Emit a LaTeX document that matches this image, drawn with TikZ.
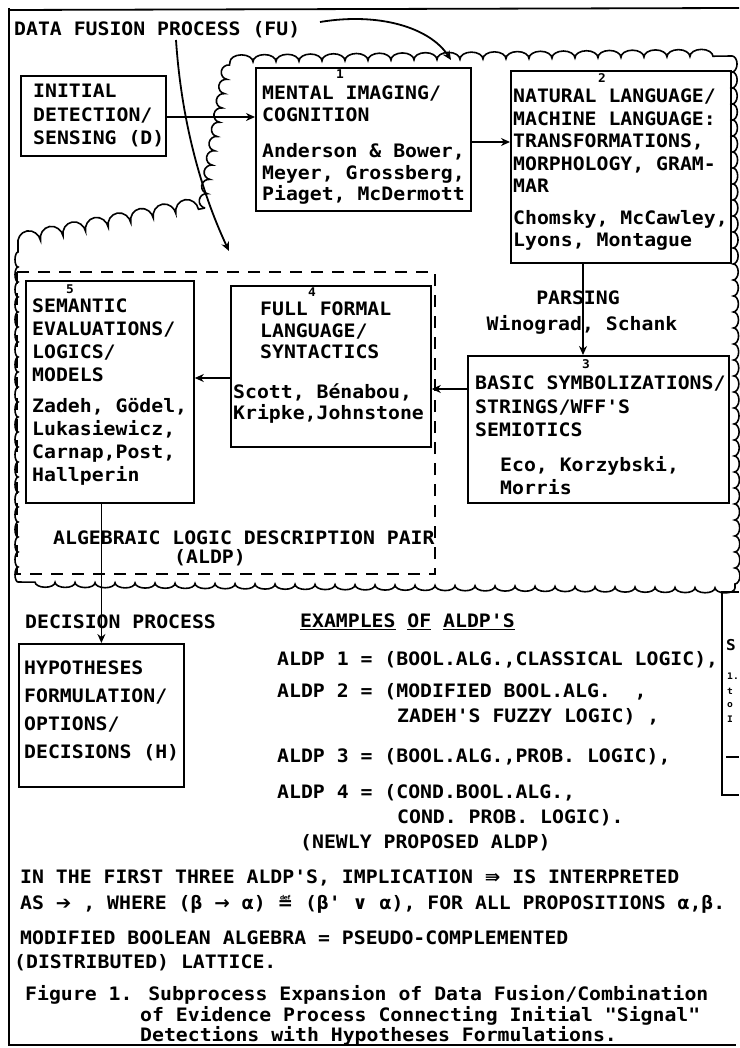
\documentclass[tikz,border=0pt]{standalone}
\usepackage{fontspec}
\newfontfamily\tw[FakeStretch=1.07]{DejaVu Sans Mono}
\newfontfamily\sym{DejaVu Sans}
\usetikzlibrary{arrows.meta,decorations.pathmorphing}
\newcommand\mytt[1]{\tw\bfseries\fontsize{18.5}{#1}\selectfont\spaceskip=\fontcharwd\font`0\relax}
\tikzset{
 tt/.style={font=\mytt{22}},
 boxf/.style={draw, line width=1.8pt, anchor=north west, inner sep=0pt},
 btxt/.style={anchor=north west, align=left, inner sep=0pt},
 lbl/.style={tt, anchor=west, inner sep=0pt},
 arr/.style={line width=1.8pt, -{Stealth[length=9pt,width=8pt]}},
 cloudline/.style={line width=1.6pt, decorate},
 num/.style={font=\tw\bfseries\fontsize{12}{12}\selectfont, inner sep=0pt},
 frame/.style={line width=1.8pt},
 aldp/.style={line width=1.6pt, dash pattern=on 12pt off 9pt},
}
\begin{document}
\begin{tikzpicture}[x=1pt,y=-1pt]
\useasboundingbox (0,0) rectangle (739,1048);
\fill[white] (0,0) rectangle (739,1048);
% outer frame
\draw[frame] (9,10) -- (739,8);
\draw[frame] (9,8) -- (9,1046);
\draw[frame] (9,1045) -- (736,1045);
% title
\node[lbl, font=\mytt{20}] (title) at (14,30) {DATA FUSION PROCESS (FU)};
% cloud
\draw[cloudline, decoration={bumps,segment length=46pt,amplitude=7pt}] (230,62) -- (732,56);
\draw[cloudline, decoration={bumps,segment length=32pt,amplitude=5pt}] (732,56) -- (735,588);
\draw[cloudline, decoration={bumps,segment length=40pt,amplitude=5pt}] (735,588) -- (18,582);
\draw[cloudline, decoration={bumps,segment length=30pt,amplitude=3pt}] (18,582) -- (18,245);
\draw[cloudline, decoration={bumps,segment length=46pt,amplitude=12pt}] (18,245) -- (205,208);
\draw[cloudline, decoration={bumps,segment length=29pt,amplitude=7pt}] (205,208) -- (230,62);
% ALDP dashed region
\draw[aldp] (17,272) rectangle (435,574);
\node[lbl] (alg) at (53,538) {ALGEBRAIC LOGIC DESCRIPTION PAIR};
\node[tt, inner sep=0pt] (aldp) at (210,558) {(ALDP)};
% box frames
\node[boxf, minimum width=145pt, minimum height=80pt] (d) at (20,75) {};
\node[boxf, minimum width=215pt, minimum height=143pt] (m) at (255,67) {};
\node[boxf, minimum width=220pt, minimum height=192pt] (n) at (510,70) {};
\node[boxf, minimum width=261pt, minimum height=147pt] (bs) at (467,355) {};
\node[boxf, minimum width=200pt, minimum height=161pt] (f) at (230,285) {};
\node[boxf, minimum width=168pt, minimum height=222pt] (s) at (25,280) {};
\node[boxf, minimum width=165pt, minimum height=143pt] (h) at (18,643) {};
% box texts
\node[btxt, font=\mytt{23.5}] (dT) at (33,84) {INITIAL\\DETECTION/\\SENSING (D)};
\node[btxt, font=\mytt{21.5}] (mT) at (262,86)
 {MENTAL IMAGING/\\COGNITION\\[15pt]Anderson \& Bower,\\Meyer, Grossberg,\\Piaget, McDermott};
\node[btxt, font=\mytt{22.5}] (nT) at (513,89)
 {NATURAL LANGUAGE/\\MACHINE LANGUAGE:\\TRANSFORMATIONS,\\MORPHOLOGY, GRAM-\\MAR\\[9pt]Chomsky, McCawley,\\Lyons, Montague};
\node[btxt, font=\mytt{23.5}] (bsT) at (475,376)
 {BASIC SYMBOLIZATIONS/\\STRINGS/WFF'S\\SEMIOTICS\\[11pt]\hspace*{25pt}Eco, Korzybski,\\\hspace*{25pt}Morris};
\node[btxt, font=\mytt{21.5}] (fT) at (233,302)
 {\hspace*{27pt}FULL FORMAL\\\hspace*{27pt}LANGUAGE/\\\hspace*{27pt}SYNTACTICS\\[18pt]Scott, Bénabou,\\Kripke,Johnstone};
\node[btxt, font=\mytt{23}] (sT) at (32,299)
 {SEMANTIC\\EVALUATIONS/\\LOGICS/\\MODELS\\[8pt]Zadeh, Gödel,\\Lukasiewicz,\\Carnap,Post,\\Hallperin};
\node[btxt, font=\mytt{28}] (hT) at (24,661)
 {HYPOTHESES\\FORMULATION/\\OPTIONS/\\DECISIONS (H)};
% box numbers
\node[num] (n1) at (340,74) {1};
\node[num] (n2) at (602,78) {2};
\node[num] (n3) at (586,364) {3};
\node[num] (n4) at (312,292) {4};
\node[num] (n5) at (70,289) {5};
% labels
\node[tt, inner sep=0pt] (parse) at (578,298) {PARSING};
\node[tt, inner sep=0pt] (wino) at (582,325) {Winograd, Schank};
\node[lbl] (dec) at (25,622) {DECISION PROCESS};
\node[lbl] (ex) at (300,622) {\underline{EXAMPLES} \underline{OF} \underline{ALDP'S}};
% connectors
\coordinate (pa) at (583,0);
\coordinate (pb) at (0,389);
\coordinate (pc) at (0,378);
\coordinate (pd) at (0,117);
\coordinate (pe) at (0,142);
\draw[arr] (d.east |- pd) -- (m.west |- pd);
\draw[arr] (m.east |- pe) -- (n.west |- pe);
\draw[arr] (n.south -| pa) -- (bs.north -| pa);
\draw[arr] (bs.west |- pb) -- (f.east |- pb);
\draw[arr] (f.west |- pc) -- (s.east |- pc);
\draw[arr] (s.south -| h.north) -- (h.north);
\coordinate (ta) at (176,40);
\coordinate (tb) at (229,251);
\coordinate (tc) at (320,22);
\coordinate (td) at (451,60);
\draw[arr] (ta) .. controls (182,130) and (205,200) .. (tb);
\draw[arr] (tc) .. controls (380,12) and (430,28) .. (td);
% ALDP examples
\node[lbl] (a1) at (277,660) {ALDP 1 = (BOOL.ALG.,CLASSICAL LOGIC),};
\node[lbl] (a2) at (277,692) {ALDP 2 = (MODIFIED BOOL.ALG.\ \ ,};
\node[lbl] (a2b) at (397,717) {ZADEH'S FUZZY LOGIC) ,};
\node[lbl] (a3) at (277,757) {ALDP 3 = (BOOL.ALG.,PROB. LOGIC),};
\node[lbl] (a4) at (277,793) {ALDP 4 = (COND.BOOL.ALG.,};
\node[lbl] (a4b) at (397,818) {COND. PROB. LOGIC).};
\node[lbl] (a5) at (300,843) {(NEWLY PROPOSED ALDP)};
% notes
\node[lbl] (b1) at (20,878) {IN THE FIRST THREE ALDP'S, IMPLICATION {\sym ⇛} IS INTERPRETED};
\node[lbl] (b2) at (20,904) {AS {\sym ➔} , WHERE (β {\sym →} α) {\sym ≝} (β' {\sym ∨} α), FOR ALL PROPOSITIONS α,β.};
\node[lbl] (b3) at (20,938) {MODIFIED BOOLEAN ALGEBRA = PSEUDO-COMPLEMENTED};
\node[lbl] (b4) at (14,963) {(DISTRIBUTED) LATTICE.};
\node[lbl] (c1) at (25,995) {Figure 1. Subprocess Expansion of Data Fusion/Combination};
\node[lbl] (c2) at (140,1016) {of Evidence Process Connecting Initial "Signal"};
\node[lbl] (c3) at (140,1036) {Detections with Hypotheses Formulations.};
% partial neighbouring box at right edge
\draw[frame, line width=2.2pt] (739,592) -- (722,592) -- (722,795) -- (739,795);
\node[lbl, font=\tw\bfseries\fontsize{15}{15}\selectfont] (rs) at (726,645) {S};
\node[lbl, font=\tw\bfseries\fontsize{9}{9}\selectfont] (r1) at (727,676) {1.};
\node[lbl, font=\tw\bfseries\fontsize{9}{9}\selectfont] (r2) at (727,691) {t};
\node[lbl, font=\tw\bfseries\fontsize{9}{9}\selectfont] (r3) at (727,705) {o};
\node[lbl, font=\tw\bfseries\fontsize{9}{9}\selectfont] (r4) at (727,719) {I};
\draw[line width=1.6pt] (726,757) -- (739,757);
\end{tikzpicture}
\end{document}
